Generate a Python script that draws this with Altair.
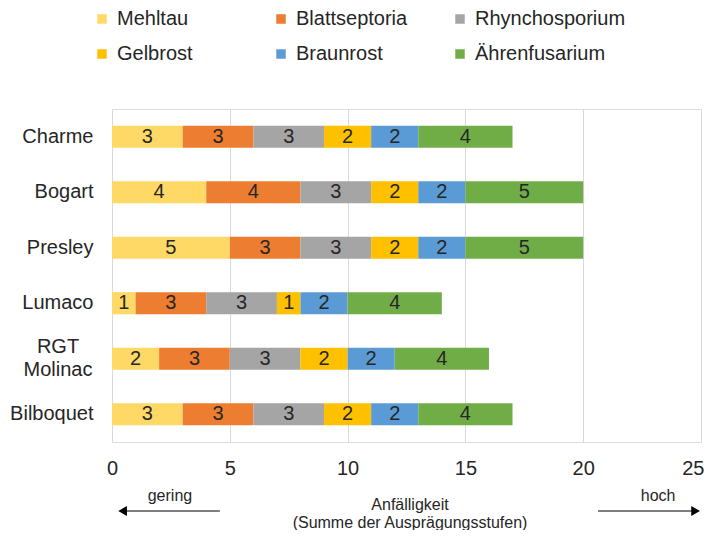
import altair as alt
import pandas as pd

varieties = ["Charme", "Bogart", "Presley", "Lumaco", "RGT Molinac", "Bilboquet"]
diseases = ["Mehltau", "Blattseptoria", "Rhynchosporium", "Gelbrost", "Braunrost", "Ährenfusarium"]
mehltau = [3, 4, 5, 1, 2, 3]
blattseptoria = [3, 4, 3, 3, 3, 3]
rhynchosporium = [3, 3, 3, 3, 3, 3]
gelbrost = [2, 2, 2, 1, 2, 2]
braunrost = [2, 2, 2, 2, 2, 2]
aehrenfusarium = [4, 5, 5, 4, 4, 4]
colors = ["#FFD966", "#ED7D31", "#A5A5A5", "#FFC000", "#5B9BD5", "#70AD47"]
x_ticks = [0, 5, 10, 15, 20, 25]

series = [mehltau, blattseptoria, rhynchosporium, gelbrost, braunrost, aehrenfusarium]
rows = []
for vi, v in enumerate(varieties):
    start = 0
    for di, d in enumerate(diseases):
        val = series[di][vi]
        rows.append({"Sorte": v, "Krankheit": d, "Wert": val, "start": start,
                     "end": start + val, "mid": start + val / 2, "ord": di})
        start += val
df = pd.DataFrame(rows)

TXT = "#262626"
FONT = "Liberation Sans"

x_scale = alt.Scale(domain=[0, 25], nice=False, zero=True)
y_scale = alt.Scale(domain=varieties, paddingInner=0.6, paddingOuter=0.3)

bars = alt.Chart(df).mark_bar().encode(
    x=alt.X("start:Q", scale=x_scale, title=None,
            axis=alt.Axis(values=x_ticks, grid=True, gridColor="#D9D9D9", domain=False,
                          ticks=False, labelFontSize=20, labelColor=TXT, labelPadding=16,
                          labelFont=FONT, labelFlush=False,
                          labelAlign={"condition": {"test": "datum.value == 25", "value": "right"},
                                      "value": "center"},
                          labelOffset={"condition": {"test": "datum.value == 25", "value": 3},
                                       "value": 0})),
    x2="end:Q",
    y=alt.Y("Sorte:N", scale=y_scale, title=None, sort=varieties,
            axis=alt.Axis(domain=False, ticks=False, labelFontSize=20, labelColor=TXT,
                          labelPadding=19, labelLimit=300, labelFont=FONT,
                          labelExpr="datum.label == 'RGT Molinac' ? '' : datum.label")),
    color=alt.Color("Krankheit:N", scale=alt.Scale(domain=diseases, range=colors), sort=diseases,
                    legend=alt.Legend(title=None, orient="none", legendX=-20, legendY=-100,
                                      direction="horizontal",
                                      columns=3, gridAlign="all", columnPadding=3, rowPadding=15,
                                      symbolType="square", symbolSize=90, symbolStrokeWidth=0,
                                      labelFontSize=20, labelColor=TXT, labelFont=FONT,
                                      labelOffset=5, padding=0, labelLimit=300)),
    order=alt.Order("ord:Q"),
)

labels = alt.Chart(df).mark_text(fontSize=20, color=TXT, baseline="middle", font=FONT).encode(
    x=alt.X("mid:Q", scale=x_scale),
    y=alt.Y("Sorte:N", scale=y_scale, sort=varieties),
    text="Wert:Q",
)

# two-line category label (centred lines, as in the reference)
two_line = alt.Chart(pd.DataFrame({"Sorte": ["RGT Molinac"]})).mark_text(
    fontSize=20, color=TXT, baseline="middle", align="center", font=FONT,
    lineHeight=23, dy=-11.5,
).encode(
    y=alt.Y("Sorte:N", scale=y_scale, sort=varieties),
    x=alt.value(-54),
    text=alt.value(["RGT", "Molinac"]),
)

one = pd.DataFrame({"a": [0]})

def ann_text(xv, yv, s):
    return alt.Chart(one).mark_text(fontSize=16, color=TXT, baseline="middle", font=FONT).encode(
        x=alt.datum(xv), y=alt.value(yv), text=alt.value(s))

def ann_rule(x1, x2, yv):
    return alt.Chart(one).mark_rule(color="black", strokeWidth=1).encode(
        x=alt.datum(x1), x2=alt.datum(x2), y=alt.value(yv))

def ann_head(xv, yv, shape):
    return alt.Chart(one).mark_point(shape=shape, filled=True, size=100, color="black", opacity=1).encode(
        x=alt.datum(xv), y=alt.value(yv))

annotations = [
    ann_text(2.46, 387, "gering"),
    ann_text(23.18, 387, "hoch"),
    ann_text(12.65, 396, "Anfälligkeit"),
    ann_text(12.65, 414, "(Summe der Ausprägungsstufen)"),
    ann_rule(0.45, 4.58, 402),
    ann_head(0.45, 402, "triangle-left"),
    ann_rule(20.63, 24.77, 402),
    ann_head(24.77, 402, "triangle-right"),
]

chart = alt.layer(bars, labels, two_line, *annotations).properties(
    width=589, height=333,
    autosize=alt.AutoSizeParams(type="none"),
    padding={"left": 104, "top": 101, "right": 4, "bottom": 88},
).configure_view(stroke=None).configure(font=FONT)

chart.save("out.html", embed_options={"renderer": "svg", "actions": False})
